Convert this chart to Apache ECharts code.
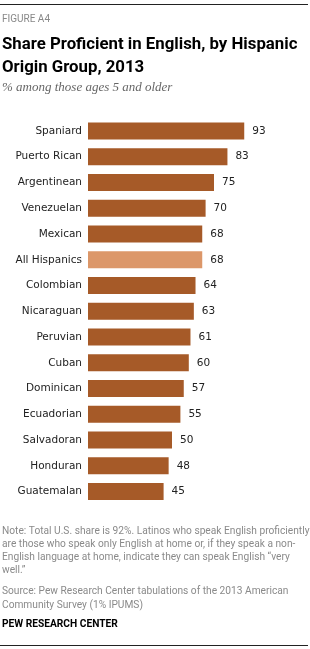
<!DOCTYPE html>
<html>
<head>
<meta charset="utf-8">
<script src="https://cdn.jsdelivr.net/npm/echarts@6/dist/echarts.min.js"></script>
<style>
html,body{margin:0;padding:0;background:#fff;}
#chart{width:310px;height:649px;}
</style>
</head>
<body>
<div id="chart"></div>
<script>
var categories = ['Spaniard','Puerto Rican','Argentinean','Venezuelan','Mexican','All Hispanics','Colombian','Nicaraguan','Peruvian','Cuban','Dominican','Ecuadorian','Salvadoran','Honduran','Guatemalan'];
var values = [93,83,75,70,68,68,64,63,61,60,57,55,50,48,45];
var highlightCategory = 'All Hispanics';

var figureLabel = 'FIGURE A4';
var titleLines = ['Share Proficient in English, by Hispanic','Origin Group, 2013'];
var subtitle = '% among those ages 5 and older';
var noteLines = [
  'Note: Total U.S. share is 92%. Latinos who speak English proficiently',
  'are those who speak only English at home or, if they speak a non-',
  'English language at home, indicate they can speak English \u201cvery',
  'well.\u201d'
];
var sourceLines = [
  'Source: Pew Research Center tabulations of the 2013 American',
  'Community Survey (1% IPUMS)'
];
var credit = 'PEW RESEARCH CENTER';

var DARK = '#A65A28';
var LIGHT = '#DC9769';
var LABEL_FONT = '"DejaVu Sans", Verdana, sans-serif';
var NOTE_FONT = 'Roboto, "Liberation Sans", sans-serif';

var chart = echarts.init(document.getElementById('chart'), null, {renderer:'canvas'});

var graphics = [
  {type:'line', shape:{x1:0,y1:4.5,x2:308,y2:4.5}, style:{stroke:'#222',lineWidth:1}},
  {type:'text', x:2, y:19, style:{text:figureLabel, font:'10px '+NOTE_FONT, fill:'#888', verticalAlign:'middle'}},
  {type:'text', x:2, y:45, style:{text:titleLines[0], font:'bold 16.8px Roboto, sans-serif', fill:'#000', verticalAlign:'middle'}},
  {type:'text', x:2, y:68, style:{text:titleLines[1], font:'bold 16.8px Roboto, sans-serif', fill:'#000', verticalAlign:'middle'}},
  {type:'text', x:2, y:88, style:{text:subtitle, font:'italic 13px "Liberation Serif", serif', fill:'#666', verticalAlign:'middle'}},
  {type:'line', shape:{x1:0,y1:645.5,x2:308,y2:645.5}, style:{stroke:'#222',lineWidth:1}}
];
var noteY = [531.7,544.7,557.7,570.7];
noteLines.forEach(function(t,i){
  graphics.push({type:'text', x:2, y:noteY[i], style:{text:t, font:'10.2px '+NOTE_FONT, fill:'#8a8a8a', verticalAlign:'middle'}});
});
var srcY = [591.7,605];
sourceLines.forEach(function(t,i){
  graphics.push({type:'text', x:2, y:srcY[i], style:{text:t, font:'10.2px '+NOTE_FONT, fill:'#8a8a8a', verticalAlign:'middle'}});
});
graphics.push({type:'text', x:2, y:624.5, style:{text:credit, font:'bold 10.2px '+NOTE_FONT, fill:'#000', verticalAlign:'middle'}});

var option = {
  animation:false,
  grid:{left:88, right:54, top:118.1, bottom:144.5, containLabel:false},
  xAxis:{type:'value', min:0, max:100, show:false},
  yAxis:{
    type:'category', data:categories, inverse:true,
    axisLine:{show:false}, axisTick:{show:false}, splitLine:{show:false},
    axisLabel:{margin:6, color:'#222', fontFamily:LABEL_FONT, fontSize:10.5}
  },
  series:[{
    type:'bar', barWidth:17,
    data: values.map(function(v,i){
      return {value:v, itemStyle:{color: categories[i]===highlightCategory ? LIGHT : DARK}};
    }),
    label:{show:true, position:'right', distance:8, color:'#222', fontFamily:LABEL_FONT, fontSize:10.5}
  }],
  graphic: graphics
};
chart.setOption(option);
</script>
</body>
</html>
